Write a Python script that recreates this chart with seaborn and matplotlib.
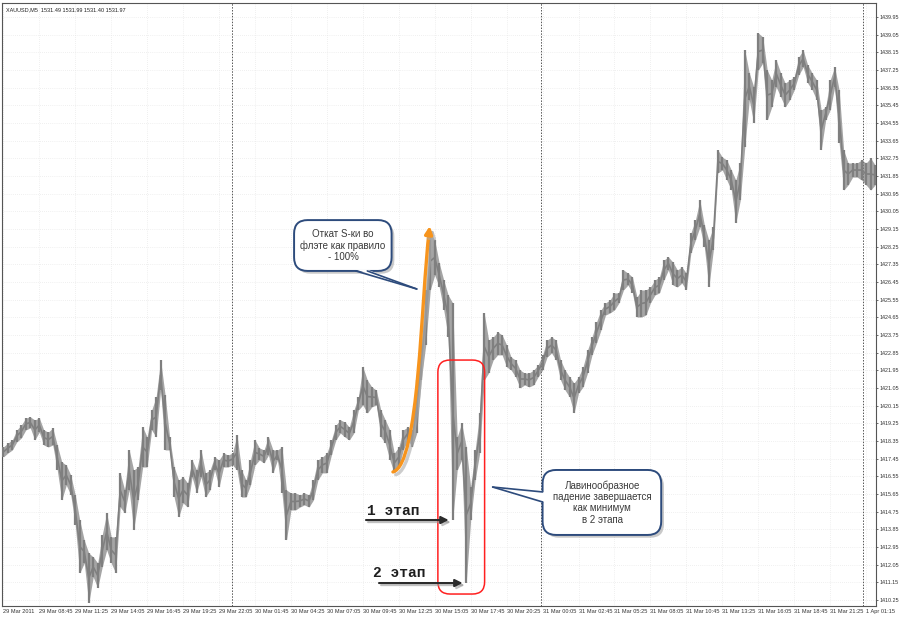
import numpy as np
import pandas as pd
import seaborn as sns
import matplotlib.pyplot as plt
import matplotlib.patheffects as pe
from matplotlib.patches import FancyBboxPatch, FancyArrowPatch, Polygon
from matplotlib.path import Path

# chart data (XAUUSD M5, each entry = a few M5 bars merged)
header = "XAUUSD,M5  1531.49 1531.99 1531.40 1531.97"

time_labels = [
    "29 Mar 2011", "29 Mar 08:45", "29 Mar 11:25", "29 Mar 14:05", "29 Mar 16:45",
    "29 Mar 19:25", "29 Mar 22:05", "30 Mar 01:45", "30 Mar 04:25", "30 Mar 07:05",
    "30 Mar 09:45", "30 Mar 12:25", "30 Mar 15:05", "30 Mar 17:45", "30 Mar 20:25",
    "31 Mar 00:05", "31 Mar 02:45", "31 Mar 05:25", "31 Mar 08:05", "31 Mar 10:45",
    "31 Mar 13:25", "31 Mar 16:05", "31 Mar 18:45", "31 Mar 21:25", "1 Apr 01:15",
]

price_high = [
    1418.05, 1418.25, 1418.41, 1418.92, 1419.17, 1419.53, 1419.58, 1419.43, 1419.53, 1418.92,
    1418.81, 1419.02, 1418.15, 1417.29, 1417.13, 1416.62, 1415.61, 1414.33, 1413.31, 1412.65,
    1412.45, 1412.14, 1413.57, 1414.69, 1413.47, 1413.47, 1416.73, 1415.86, 1417.90, 1416.88,
    1417.03, 1419.07, 1418.56, 1419.93, 1420.60, 1422.48, 1420.70, 1418.56, 1417.03, 1416.37,
    1416.52, 1416.22, 1417.39, 1416.88, 1417.90, 1416.73, 1416.88, 1417.54, 1417.39, 1417.74,
    1417.64, 1417.74, 1418.66, 1416.88, 1416.37, 1417.39, 1418.41, 1418.00, 1417.90, 1418.56,
    1417.90, 1417.90, 1418.05, 1415.86, 1415.71, 1415.71, 1415.61, 1415.71, 1415.61, 1416.37,
    1417.39, 1417.54, 1417.74, 1418.41, 1419.17, 1419.43, 1419.32, 1419.07, 1419.93, 1420.60,
    1422.13, 1421.46, 1421.11, 1420.95, 1419.93, 1419.43, 1418.92, 1417.74, 1418.05, 1418.92,
    1419.07, 1418.92, 1421.46, 1423.35, 1426.05, 1429.00, 1428.59, 1427.42, 1426.56, 1425.79,
    1425.39, 1418.56, 1419.27, 1418.05, 1416.01, 1417.90, 1419.78, 1424.88, 1423.50, 1423.65,
    1423.91, 1423.76, 1423.25, 1422.63, 1422.48, 1421.97, 1421.82, 1421.82, 1421.97, 1422.23,
    1422.74, 1423.50, 1423.65, 1423.50, 1422.48, 1421.97, 1421.62, 1421.31, 1421.62, 1422.13,
    1422.99, 1423.65, 1424.42, 1425.03, 1425.39, 1425.54, 1425.90, 1425.90, 1427.07, 1426.91,
    1426.71, 1425.69, 1426.05, 1426.05, 1426.20, 1426.56, 1426.71, 1427.58, 1427.73, 1427.47,
    1427.07, 1427.22, 1426.91, 1428.95, 1429.61, 1430.63, 1429.36, 1428.59, 1429.26, 1433.18,
    1432.82, 1432.67, 1432.16, 1431.65, 1432.52, 1438.27, 1437.10, 1436.39, 1439.14, 1438.94,
    1437.25, 1436.75, 1437.76, 1437.10, 1436.59, 1436.75, 1436.90, 1437.92, 1438.27, 1437.51,
    1437.10, 1436.75, 1435.22, 1435.37, 1436.75, 1437.41, 1436.24, 1433.18, 1432.52, 1432.52,
    1432.52, 1432.67, 1432.52, 1432.77, 1432.42,
]

price_low = [
    1417.54, 1417.74, 1417.90, 1418.31, 1418.51, 1418.92, 1419.02, 1418.41, 1418.81, 1418.15,
    1418.05, 1418.15, 1416.88, 1415.35, 1416.11, 1415.61, 1414.08, 1411.63, 1412.14, 1410.10,
    1411.43, 1410.87, 1411.94, 1412.80, 1412.14, 1411.63, 1414.99, 1414.69, 1415.86, 1413.82,
    1415.35, 1417.03, 1417.03, 1418.92, 1418.56, 1420.95, 1417.90, 1417.90, 1415.50, 1414.48,
    1415.20, 1414.99, 1416.52, 1415.71, 1416.52, 1415.50, 1415.86, 1416.88, 1416.01, 1417.03,
    1417.03, 1417.13, 1416.88, 1415.50, 1415.50, 1416.11, 1417.13, 1417.39, 1417.24, 1417.64,
    1416.73, 1417.39, 1415.71, 1413.31, 1414.84, 1414.84, 1414.99, 1415.10, 1414.99, 1415.35,
    1416.37, 1416.73, 1416.73, 1417.64, 1418.41, 1418.76, 1418.56, 1418.41, 1418.76, 1419.93,
    1420.19, 1419.78, 1420.09, 1420.19, 1418.56, 1418.25, 1417.39, 1416.73, 1417.03, 1417.90,
    1418.41, 1418.05, 1418.76, 1421.46, 1423.25, 1426.05, 1426.81, 1426.20, 1425.03, 1423.65,
    1414.33, 1416.88, 1417.39, 1411.12, 1414.33, 1416.37, 1417.74, 1421.46, 1421.82, 1422.48,
    1422.74, 1422.74, 1422.13, 1421.97, 1421.62, 1421.06, 1421.21, 1421.11, 1421.21, 1421.62,
    1421.97, 1422.63, 1422.84, 1422.48, 1421.46, 1420.95, 1420.60, 1419.78, 1420.80, 1421.11,
    1421.82, 1422.74, 1423.35, 1424.01, 1424.77, 1424.88, 1425.03, 1425.39, 1426.05, 1426.30,
    1425.90, 1424.67, 1424.67, 1424.77, 1425.39, 1425.79, 1425.90, 1426.56, 1427.07, 1426.30,
    1426.20, 1426.40, 1426.05, 1427.93, 1428.59, 1429.26, 1428.24, 1426.20, 1428.09, 1432.01,
    1432.16, 1431.65, 1431.14, 1429.46, 1430.63, 1433.33, 1435.73, 1434.55, 1437.25, 1437.61,
    1434.71, 1435.37, 1436.39, 1435.88, 1435.37, 1435.73, 1436.24, 1437.00, 1437.41, 1436.59,
    1436.24, 1435.73, 1433.18, 1434.71, 1435.22, 1436.39, 1433.54, 1431.14, 1431.40, 1431.80,
    1431.80, 1431.65, 1431.40, 1431.14, 1431.40,
]

day_breaks = [50.9, 119.6, 191.3]

note_top = "Откат S-ки во\nфлэте как правило\n- 100%"
note_bottom = "Лавинообразное\nпадение завершается\nкак минимум\nв 2 этапа"
stage1 = "1 этап"
stage2 = "2 этап"

sns.set_style("white")
plt.rcParams['font.family'] = ['Liberation Sans', 'DejaVu Sans']

df = pd.DataFrame({"bar": np.arange(len(price_high)), "high": price_high, "low": price_low})
df["mid"] = (df["high"] + df["low"]) / 2

fig = plt.figure(figsize=(9, 6.3), dpi=100)
ax = fig.add_axes([2 / 900, 24 / 630, 874 / 900, 603 / 630])

bar_col = "#7f7f7f"
ax.fill_between(df["bar"], df["low"], df["high"], color=bar_col, alpha=0.7, lw=0, zorder=3)
ax.vlines(df["bar"], df["low"], df["high"], color=bar_col, lw=1.6, zorder=3)
sns.lineplot(data=df, x="bar", y="mid", color=bar_col, lw=1.2, ax=ax, zorder=3)

ax.set_xlim(-0.3, 194.2)
ax.set_ylim(1409.95, 1440.67)

# axes / ticks in terminal style
price_ticks = 1439.95 - 0.9 * np.arange(34)
ax.yaxis.tick_right()
ax.set_yticks(price_ticks)
ax.set_yticklabels([f"{v:.2f}" for v in price_ticks])
ax.set_xticks(np.arange(len(time_labels)) * 8)
ax.set_xticklabels(time_labels, ha="left")
ax.tick_params(axis="both", length=1.5, width=0.5, pad=1.0, colors="#333333")
ax.tick_params(axis="x", labelsize=4.1)
ax.tick_params(axis="y", labelsize=3.9)
ax.set_xlabel("")
ax.set_ylabel("")
ax.grid(True, color="#e2e2e2", ls=(0, (1, 2)), lw=0.5)
for s in ax.spines.values():
    s.set_color("#555555")
    s.set_linewidth(0.8)

for d in day_breaks:
    ax.axvline(d, color="#555555", ls=(0, (1.5, 1.5)), lw=0.7, zorder=2)

ax.text(0.005, 0.993, header, transform=ax.transAxes, fontsize=4.0, va="top", color="#222222")

asp = 4.5 / 19.63  # price units per bar unit for equal pixels
shadow = [pe.SimplePatchShadow(offset=(2, -2), shadow_rgbFace="#888888", alpha=0.45), pe.Normal()]

# bubble 1
b1 = FancyBboxPatch((64.7, 1427.02), 21.7, 2.59, boxstyle="round,pad=0,rounding_size=3",
                    mutation_aspect=asp, fc="white", ec="#2d4b7c", lw=1.4, zorder=6)
b1.set_path_effects(shadow)
ax.add_patch(b1)
ax.add_patch(Polygon([(78.4, 1427.09), (81.0, 1427.09), (92.0, 1426.1)], closed=True,
                     fc="white", ec="none", zorder=7))
ax.plot([78.4, 92.0], [1427.02, 1426.1], color="#2d4b7c", lw=1.2, zorder=7)
ax.plot([81.0, 92.0], [1427.02, 1426.1], color="#2d4b7c", lw=1.2, zorder=7)
ax.text(75.6, 1428.32, note_top, ha="center", va="center", fontsize=7, color="#3a3a3a",
        linespacing=1.2, zorder=8)

# bubble 2
b2 = FancyBboxPatch((120.0, 1413.57), 26.4, 3.31, boxstyle="round,pad=0,rounding_size=3",
                    mutation_aspect=asp, fc="white", ec="#2d4b7c", lw=1.4, zorder=6)
b2.set_path_effects(shadow)
ax.add_patch(b2)
ax.add_patch(Polygon([(120.4, 1415.76), (120.4, 1415.25), (108.9, 1416.01)], closed=True,
                     fc="white", ec="none", zorder=7))
ax.plot([120.0, 108.9], [1415.76, 1416.01], color="#2d4b7c", lw=1.2, zorder=7)
ax.plot([120.0, 108.9], [1415.25, 1416.01], color="#2d4b7c", lw=1.2, zorder=7)
ax.text(133.3, 1415.22, note_bottom, ha="center", va="center", fontsize=7, color="#3a3a3a",
        linespacing=1.15, zorder=8)

# red frame around the fall
red = FancyBboxPatch((96.7, 1410.56), 10.4, 11.92, boxstyle="round,pad=0,rounding_size=2.7",
                     mutation_aspect=asp, fc="none", ec="#ff2020", lw=1.1, zorder=5)
ax.add_patch(red)

# orange S-curve
curve = Path([(86.7, 1416.78), (92.6, 1417.13), (92.9, 1425.54), (94.9, 1429.31)],
             [Path.MOVETO, Path.CURVE4, Path.CURVE4, Path.CURVE4])
orange = FancyArrowPatch(path=curve, arrowstyle="-|>", mutation_scale=11, color="#f7941d",
                         lw=2.4, zorder=6)
orange.set_path_effects([pe.SimpleLineShadow(offset=(2, -2), shadow_color="#aaaaaa", alpha=0.6),
                         pe.Normal()])
ax.add_patch(orange)

# stage arrows
for txt, tx, ty, x0, x1, ya in [(stage1, 80.9, 1414.79, 80.7, 99.1, 1414.33),
                                (stage2, 82.2, 1411.63, 83.6, 102.2, 1411.12)]:
    ax.text(tx, ty, txt, fontfamily="Liberation Mono", fontweight="bold", fontsize=10.5,
            color="#1e1e1e", ha="left", va="center", zorder=8)
    arr = FancyArrowPatch((x0, ya), (x1, ya), arrowstyle="-|>", mutation_scale=11,
                          color="#2b2b2b", lw=1.5, shrinkA=0, shrinkB=0, zorder=8)
    arr.set_path_effects([pe.SimpleLineShadow(offset=(1.5, -1.5), shadow_color="#999999", alpha=0.6),
                          pe.Normal()])
    ax.add_patch(arr)

fig.savefig("out.png", dpi=100)
